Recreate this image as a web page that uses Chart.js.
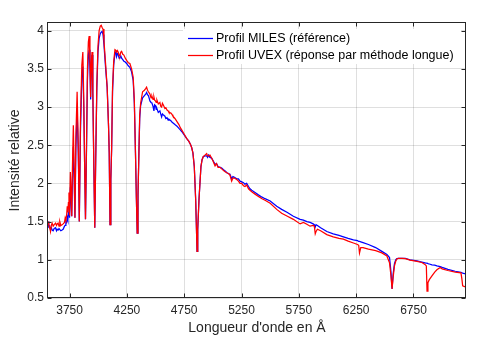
<!DOCTYPE html>
<html>
<head>
<meta charset="utf-8">
<script src="https://cdn.jsdelivr.net/npm/chart.js@4/dist/chart.umd.min.js"></script>
<style>
  html, body { margin: 0; padding: 0; background: #fff; }
  #wrap { width: 480px; height: 346px; }
</style>
</head>
<body>
<div id="wrap"><canvas id="myChart" width="480" height="346"></canvas></div>
<script>
(function() {
    'use strict';

    // wavelengths (Å) shared by both profiles
    var wavelength = [
        3562, 3569, 3577, 3584, 3591, 3598, 3607, 3616, 3628, 3636, 3642, 3650, 3658, 3665, 3674, 3685, 3694, 3706, 3712, 3718,
        3724, 3730, 3735, 3740, 3745, 3750, 3757, 3763, 3769, 3775, 3783, 3790, 3797, 3805, 3816, 3826, 3835, 3845, 3857, 3866,
        3874, 3882, 3889, 3897, 3906, 3914, 3921, 3928, 3934, 3940, 3946, 3953, 3962, 3970, 3978, 3988, 3998, 4008, 4018, 4026,
        4034, 4042, 4050, 4065, 4078, 4090, 4096, 4103, 4110, 4117, 4125, 4135, 4146, 4154, 4160, 4167, 4174, 4182, 4189, 4197,
        4204, 4214, 4224, 4236, 4248, 4262, 4276, 4291, 4305, 4315, 4325, 4333, 4340, 4347, 4355, 4362, 4370, 4387, 4403, 4414,
        4422, 4430, 4438, 4451, 4461, 4469, 4478, 4486, 4492, 4499, 4506, 4512, 4524, 4538, 4545, 4553, 4560, 4567, 4582, 4590,
        4600, 4610, 4617, 4634, 4645, 4652, 4669, 4687, 4704, 4716, 4728, 4748, 4771, 4791, 4805, 4815, 4826, 4838, 4850, 4857,
        4862, 4868, 4879, 4896, 4906, 4916, 4931, 4946, 4954, 4962, 4975, 4990, 5005, 5019, 5032, 5045, 5063, 5077, 5093, 5110,
        5122, 5135, 5149, 5164, 5175, 5188, 5208, 5223, 5237, 5252, 5267, 5280, 5295, 5311, 5324, 5339, 5368, 5397, 5429, 5455,
        5500, 5557, 5600, 5650, 5702, 5761, 5790, 5820, 5848, 5875, 5885, 5893, 5900, 5912, 5940, 5994, 6050, 6100, 6139, 6180,
        6226, 6262, 6272, 6279, 6290, 6310, 6357, 6420, 6474, 6518, 6541, 6553, 6563, 6573, 6584, 6595, 6605, 6619, 6650, 6678,
        6720, 6780, 6823, 6850, 6862, 6868, 6876, 6888, 6911, 6935, 6954, 6983, 7000, 7050, 7114, 7164, 7172, 7179, 7195, 7208
    ];

    // Profil MILES (référence)
    var miles = [
        1.50, 1.43, 1.44, 1.40, 1.42, 1.39, 1.38, 1.41, 1.42, 1.38, 1.40, 1.39, 1.41, 1.41, 1.38, 1.39, 1.40, 1.44, 1.45, 1.50,
        1.49, 1.55, 1.52, 1.62, 1.70, 1.55, 1.95, 1.80, 1.57, 2.05, 2.48, 2.05, 1.55, 2.45, 2.98, 2.40, 1.50, 2.65, 3.40, 3.53,
        3.00, 2.20, 1.53, 2.35, 3.35, 3.68, 3.75, 3.50, 3.10, 3.55, 3.68, 3.20, 2.20, 1.42, 2.30, 3.25, 3.72, 3.90, 3.96, 3.98,
        3.99, 3.95, 3.82, 3.50, 3.26, 2.75, 2.40, 1.46, 2.05, 2.45, 3.20, 3.55, 3.70, 3.72, 3.66, 3.70, 3.69, 3.64, 3.65, 3.67,
        3.64, 3.62, 3.60, 3.59, 3.57, 3.54, 3.52, 3.46, 3.35, 3.05, 2.40, 1.80, 1.35, 1.85, 2.40, 2.85, 3.02, 3.12, 3.15, 3.17,
        3.19, 3.16, 3.15, 3.08, 3.06, 3.05, 3.01, 2.95, 3.03, 3.02, 2.97, 2.98, 2.93, 2.95, 2.91, 2.87, 2.91, 2.90, 2.88, 2.85,
        2.86, 2.83, 2.84, 2.82, 2.80, 2.80, 2.77, 2.75, 2.72, 2.70, 2.68, 2.64, 2.59, 2.55, 2.51, 2.47, 2.40, 2.22, 1.79, 1.40,
        1.11, 1.40, 1.79, 2.22, 2.31, 2.35, 2.36, 2.36, 2.34, 2.37, 2.34, 2.33, 2.29, 2.25, 2.26, 2.22, 2.21, 2.20, 2.18, 2.16,
        2.14, 2.13, 2.12, 2.06, 2.09, 2.08, 2.06, 2.06, 2.03, 2.02, 2.01, 1.99, 2.00, 1.96, 1.93, 1.91, 1.88, 1.85, 1.82, 1.80,
        1.77, 1.70, 1.66, 1.62, 1.57, 1.53, 1.52, 1.50, 1.49, 1.47, 1.46, 1.43, 1.46, 1.45, 1.42, 1.37, 1.34, 1.32, 1.30, 1.28,
        1.26, 1.25, 1.24, 1.24, 1.235, 1.225, 1.20, 1.16, 1.11, 1.07, 1.03, 0.85, 0.62, 0.82, 0.95, 1.00, 1.015, 1.02, 1.02, 1.02,
        1.00, 0.985, 0.97, 0.96, 0.955, 0.955, 0.95, 0.945, 0.935, 0.93, 0.92, 0.91, 0.90, 0.875, 0.85, 0.835, 0.83, 0.825, 0.82, 0.815
    ];

    // Profil UVEX (réponse par méthode longue)
    var uvex = [
        1.50, 1.46, 1.42, 1.37, 1.45, 1.48, 1.44, 1.46, 1.48, 1.45, 1.47, 1.48, 1.44, 1.50, 1.45, 1.46, 1.47, 1.49, 1.55, 1.52,
        1.58, 1.70, 1.62, 1.75, 1.88, 1.58, 2.15, 1.90, 1.57, 2.20, 2.76, 2.20, 1.55, 2.60, 3.20, 2.50, 1.50, 2.80, 3.55, 3.72,
        3.10, 2.20, 1.53, 2.40, 3.50, 3.85, 3.93, 3.60, 3.13, 3.60, 3.72, 3.20, 2.20, 1.42, 2.30, 3.30, 3.80, 4.00, 4.06, 4.07,
        4.04, 4.02, 3.87, 3.55, 3.26, 2.75, 2.40, 1.46, 2.05, 2.45, 3.26, 3.60, 3.75, 3.74, 3.72, 3.74, 3.72, 3.68, 3.67, 3.72,
        3.73, 3.69, 3.68, 3.64, 3.61, 3.58, 3.57, 3.50, 3.39, 3.09, 2.40, 1.80, 1.35, 1.85, 2.40, 2.90, 3.05, 3.20, 3.22, 3.24,
        3.26, 3.22, 3.20, 3.17, 3.12, 3.14, 3.10, 3.13, 3.09, 3.08, 3.06, 3.09, 3.04, 3.06, 3.01, 3.00, 3.05, 3.03, 2.98, 2.99,
        2.96, 2.95, 2.93, 2.92, 2.90, 2.88, 2.85, 2.81, 2.77, 2.73, 2.70, 2.65, 2.59, 2.55, 2.51, 2.47, 2.40, 2.22, 1.79, 1.40,
        1.11, 1.40, 1.79, 2.22, 2.31, 2.35, 2.37, 2.39, 2.36, 2.36, 2.37, 2.33, 2.28, 2.23, 2.26, 2.21, 2.21, 2.19, 2.17, 2.15,
        2.14, 2.13, 2.11, 2.03, 2.07, 2.07, 2.05, 2.03, 2.00, 2.00, 1.97, 1.96, 1.98, 1.93, 1.91, 1.89, 1.86, 1.83, 1.80, 1.78,
        1.74, 1.66, 1.61, 1.57, 1.53, 1.47, 1.49, 1.465, 1.44, 1.45, 1.44, 1.34, 1.37, 1.40, 1.38, 1.33, 1.30, 1.28, 1.27, 1.245,
        1.22, 1.20, 1.19, 1.09, 1.16, 1.16, 1.14, 1.12, 1.09, 1.05, 0.96, 0.80, 0.62, 0.78, 0.92, 0.98, 1.01, 1.02, 1.02, 1.015,
        0.995, 0.98, 0.965, 0.94, 0.92, 0.59, 0.70, 0.74, 0.79, 0.84, 0.87, 0.90, 0.88, 0.86, 0.84, 0.83, 0.75, 0.66, 0.65, 0.65
    ];

    var xTicks = [3750, 4250, 4750, 5250, 5750, 6250, 6750];
    var yTicks = [0.5, 1, 1.5, 2, 2.5, 3, 3.5, 4];
    var seriesNames = ['Profil MILES (référence)', 'Profil UVEX (réponse par méthode longue)'];
    var seriesColors = ['#0000ff', '#ff0000'];

    var FONT = "'Liberation Sans', Arial, Helvetica, sans-serif";
    var INK = '#262626';
    var LINE_W = 1.25;

    var toPoints = function(values) {
        return wavelength.map(function(w, i) { return { x: w, y: values[i] }; });
    };

    //box with inward ticks + legend inside the axes, MATLAB style
    var boxPlugin = {
        id: 'boxPlugin',
        afterDraw: function(chart) {
            var c = chart.ctx;
            var a = chart.chartArea;
            var xs = chart.scales.x;
            var ys = chart.scales.y;
            var L = Math.round(a.left) - 0.5, R = Math.round(a.right) - 0.5;
            var T = Math.round(a.top) - 0.5, B = Math.round(a.bottom) - 0.5;
            c.save();

            // legend
            c.fillStyle = '#fff';
            c.fillRect(183, 29, 278, 35);
            var ly = [38.5, 55.5];
            c.font = '12.5px ' + FONT;
            c.textBaseline = 'middle';
            c.textAlign = 'left';
            for (var i = 0; i < 2; i++) {
                c.strokeStyle = seriesColors[i];
                c.lineWidth = LINE_W;
                c.beginPath();
                c.moveTo(188, ly[i]);
                c.lineTo(213, ly[i]);
                c.stroke();
                c.fillStyle = '#000';
                c.fillText(seriesNames[i], 216, ly[i]);
            }

            c.strokeStyle = INK;
            c.lineWidth = 1;
            c.strokeRect(L, T, R - L, B - T);
            c.beginPath();
            xTicks.forEach(function(v) {
                var px = Math.round(xs.getPixelForValue(v)) + 0.5;
                c.moveTo(px, B); c.lineTo(px, B - 4);
                c.moveTo(px, T); c.lineTo(px, T + 4);
            });
            yTicks.forEach(function(v) {
                var py = Math.round(ys.getPixelForValue(v)) + 0.5;
                c.moveTo(L, py); c.lineTo(L + 4, py);
                c.moveTo(R, py); c.lineTo(R - 4, py);
            });
            c.stroke();
            c.restore();
        }
    };

    var ctx = document.getElementById('myChart');
    new Chart(ctx, {
        type: 'line',
        data: {
            datasets: [{
                label: seriesNames[0],
                data: toPoints(miles),
                borderColor: seriesColors[0],
                borderWidth: LINE_W,
                pointRadius: 0,
                tension: 0,
                fill: false,
                order: 1
            },
            {
                label: seriesNames[1],
                data: toPoints(uvex),
                borderColor: seriesColors[1],
                borderWidth: LINE_W,
                pointRadius: 0,
                tension: 0,
                fill: false,
                order: 0
            }]
        },
        options: {
            responsive: false,
            animation: false,
            devicePixelRatio: 1,
            layout: { padding: { left: 0, right: 14, top: 23, bottom: 0 } },
            plugins: { legend: { display: false }, tooltip: { enabled: false } },
            scales: {
                x: {
                    type: 'linear',
                    min: 3562,
                    max: 7208,
                    afterBuildTicks: function(scale) {
                        scale.ticks = xTicks.map(function(v) { return { value: v }; });
                    },
                    afterFit: function(scale) { scale.height = 48; },
                    grid: { color: 'rgba(38,38,38,0.15)', lineWidth: 1, drawTicks: false },
                    border: { display: false },
                    ticks: {
                        autoSkip: false,
                        maxRotation: 0,
                        padding: 5,
                        color: INK,
                        font: { family: FONT, size: 12 },
                        callback: function(v) { return String(v); }
                    },
                    title: {
                        display: true,
                        text: "Longueur d'onde en Å",
                        color: INK,
                        font: { family: FONT, size: 14 },
                        padding: { top: 0, bottom: 9.5 }
                    }
                },
                y: {
                    min: 0.5,
                    max: 4.1,
                    afterBuildTicks: function(scale) {
                        scale.ticks = yTicks.map(function(v) { return { value: v }; });
                    },
                    afterFit: function(scale) { scale.width = 48; },
                    grid: { color: 'rgba(38,38,38,0.15)', lineWidth: 1, drawTicks: false },
                    border: { display: false },
                    ticks: {
                        padding: 4,
                        color: INK,
                        font: { family: FONT, size: 12 },
                        callback: function(v) { return String(v); }
                    },
                    title: {
                        display: true,
                        text: 'Intensité relative',
                        color: INK,
                        font: { family: FONT, size: 14 },
                        padding: { top: 6.5, bottom: 0 }
                    }
                }
            }
        },
        plugins: [boxPlugin]
    });
})();
</script>
</body>
</html>
